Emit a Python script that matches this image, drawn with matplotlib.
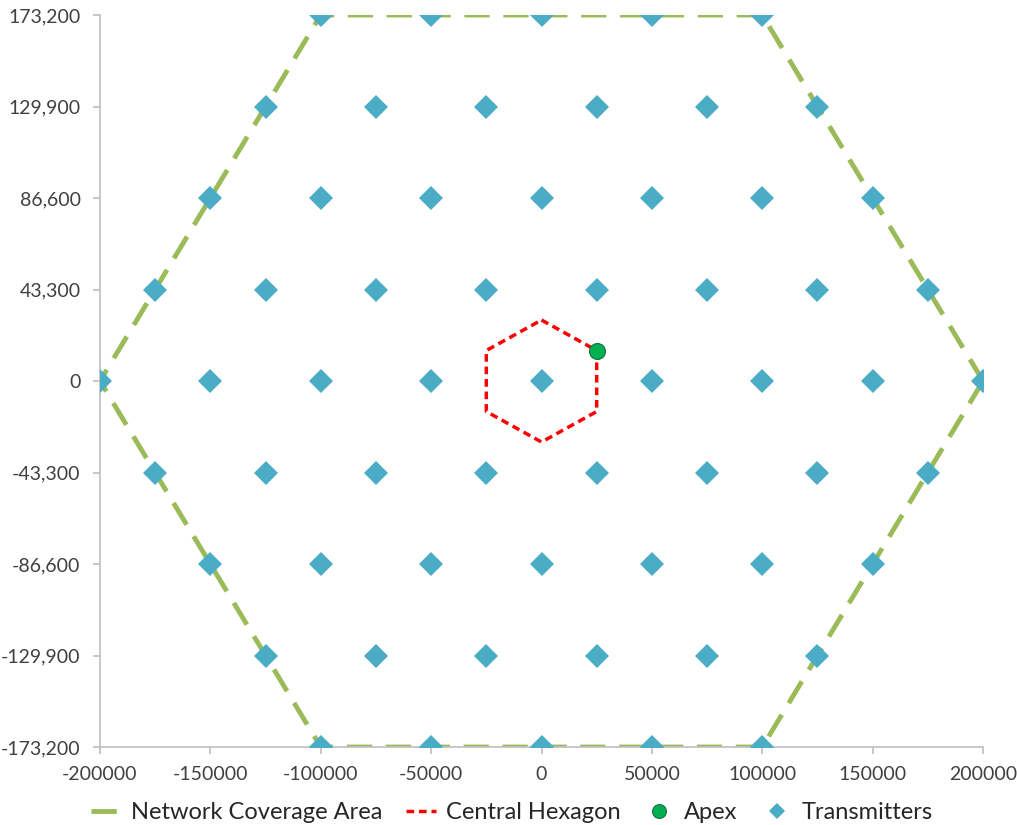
import matplotlib.pyplot as plt
import numpy as np

# transmitter rows: y level and x positions on that row
row_y = [173200, 129900, 86600, 43300, 0, -43300, -86600, -129900, -173200]
row_x = [
    [-100000, -50000, 0, 50000, 100000],
    [-125000, -75000, -25000, 25000, 75000, 125000],
    [-150000, -100000, -50000, 0, 50000, 100000, 150000],
    [-175000, -125000, -75000, -25000, 25000, 75000, 125000, 175000],
    [-200000, -150000, -100000, -50000, 0, 50000, 100000, 150000, 200000],
    [-175000, -125000, -75000, -25000, 25000, 75000, 125000, 175000],
    [-150000, -100000, -50000, 0, 50000, 100000, 150000],
    [-125000, -75000, -25000, 25000, 75000, 125000],
    [-100000, -50000, 0, 50000, 100000],
]

# outer coverage hexagon (closed)
area_x = [200000, 100000, -100000, -200000, -100000, 100000, 200000]
area_y = [0, 173200, 173200, 0, -173200, -173200, 0]

# central cell hexagon (closed)
hex_x = [0, 25000, 25000, 0, -25000, -25000, 0]
hex_y = [28868, 14434, -14434, -28868, -14434, 14434, 28868]

apex_x = [25000]
apex_y = [14434]

xticks = [-200000, -150000, -100000, -50000, 0, 50000, 100000, 150000, 200000]
yticks = [-173200, -129900, -86600, -43300, 0, 43300, 86600, 129900, 173200]

plt.rcParams['font.family'] = ['Lato', 'DejaVu Sans']

fig = plt.figure(figsize=(10.17, 8.25), dpi=100)
ax = fig.add_axes([0.0983, 0.0945, 0.8683, 0.8873])

tx = np.concatenate([np.array(xs) for xs in row_x])
ty = np.concatenate([np.full(len(xs), y) for xs, y in zip(row_x, row_y)])

ax.plot(area_x, area_y, color='#9BBB59', lw=3.5, dashes=(5.2, 2.8),
        label='Network Coverage Area', zorder=2)
ax.plot(hex_x, hex_y, color='#FF0000', lw=2.5, dashes=(2.2, 1.4),
        label='Central Hexagon', zorder=3)
ax.plot(apex_x, apex_y, 'o', color='#00B050', mec='#1f6f3f', mew=0.8,
        ms=11.5, label='Apex', zorder=5)
ax.plot(tx, ty, 'D', color='#4BACC6', ms=12, mew=0, ls='none',
        label='Transmitters', zorder=4)

ax.set_xlim(-200000, 200000)
ax.set_ylim(-173200, 173200)
ax.set_xticks(xticks)
ax.set_yticks(yticks)
ax.set_xticklabels([str(v) for v in xticks])
ax.set_yticklabels([f'{v:,}' for v in yticks])

for s in ['top', 'right']:
    ax.spines[s].set_visible(False)
for s in ['left', 'bottom']:
    ax.spines[s].set_color('#BFBFBF')
    ax.spines[s].set_linewidth(1.2)
ax.tick_params(colors='#BFBFBF', labelcolor='#404040', labelsize=14,
               length=5, width=1.2)
ax.tick_params(axis='y', pad=9)
ax.tick_params(axis='x', pad=9)
for t in ax.get_xticklabels() + ax.get_yticklabels():
    t.set_clip_on(False)

leg = ax.legend(loc='upper center', bbox_to_anchor=(0.466, -0.062), ncol=4,
                frameon=False, fontsize=17, handlelength=1.3,
                columnspacing=1.0, handletextpad=0.4, labelcolor='#262626',
                borderaxespad=0)
hs = leg.legend_handles
hs[2].set_markersize(10)
hs[3].set_markersize(8)

fig.savefig('out.png', dpi=100)
